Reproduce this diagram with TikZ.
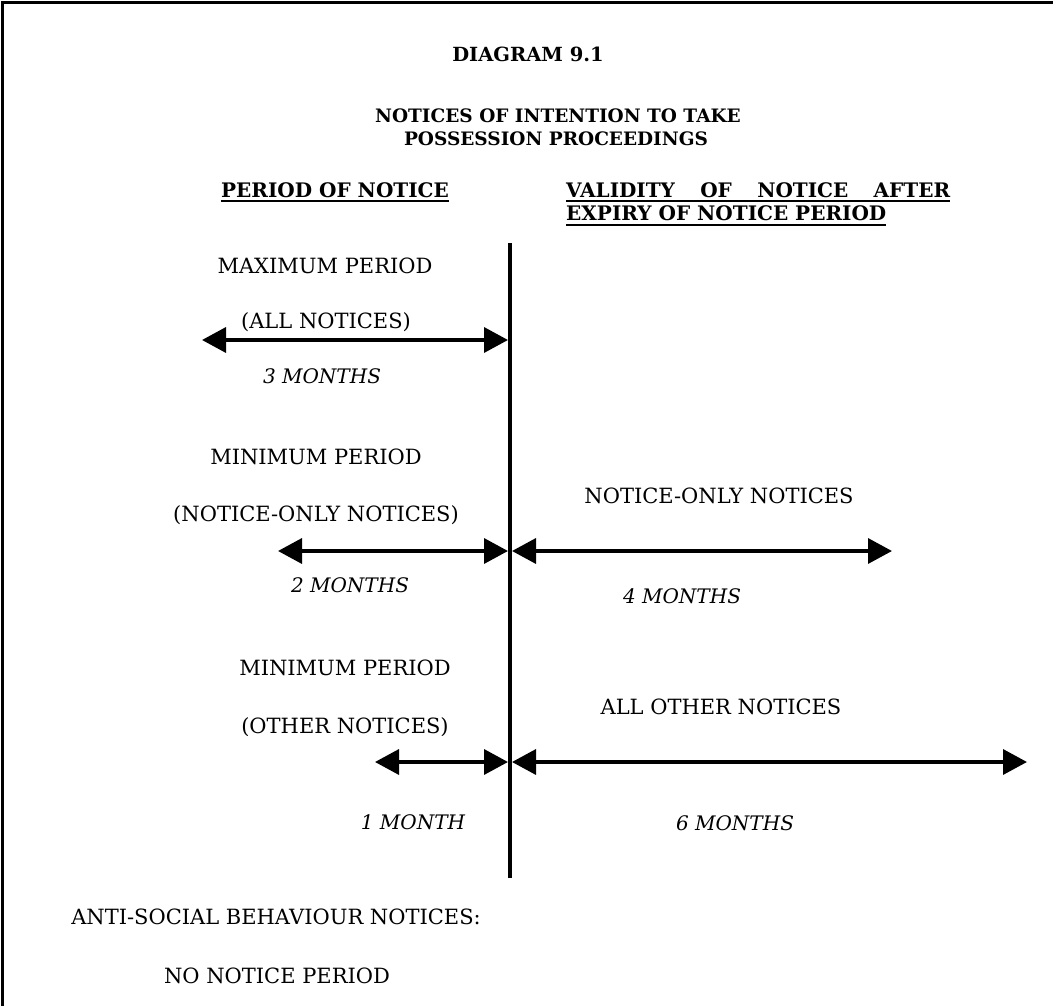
\documentclass[tikz,border=0pt]{standalone}
\usepackage{fontspec}
\setmainfont{DejaVu Serif}
\usepackage{tikz}
\usetikzlibrary{positioning}
\usetikzlibrary{arrows.meta}

\tikzset{
  lbl/.style={inner sep=0pt, anchor=base, font=\fontsize{21}{25}\selectfont},
  hdr/.style={inner sep=0pt, anchor=base, font=\fontsize{20}{24}\selectfont\bfseries},
  ttl/.style={inner sep=0pt, anchor=base, font=\fontsize{18.5}{22}\selectfont\bfseries},
  dur/.style={inner sep=0pt, anchor=base, font=\fontsize{20}{24}\selectfont\itshape},
  span/.style={line width=3.5pt, {Triangle[length=24pt,width=25pt]}-{Triangle[length=24pt,width=25pt]}},
  uline/.style={line width=2pt},
  axis/.style={line width=3.5pt},
}

\begin{document}
\begin{tikzpicture}[x=1pt, y=-1pt]
        \useasboundingbox (0,0) rectangle (1053,1006);
        \draw[line width=3pt] (1053,2.5) -- (2.5,2.5) -- (2.5,1006);

        % headings
        \node(diag) [ttl, font=\fontsize{19.5}{23}\selectfont\bfseries] at (528,62) {DIAGRAM 9.1};
        \node(ttl1) [ttl] at (558,123) {NOTICES OF INTENTION TO TAKE};
        \node(ttl2) [ttl] at (556,146) {POSSESSION PROCEEDINGS};

        \node(colL) [hdr] at (335,197) {PERIOD OF NOTICE};
        \node(colR1) [hdr, anchor=base west] at (566,197) {\makebox[384pt][s]{VALIDITY OF NOTICE AFTER}};
        \node(colR2) [hdr, anchor=base west] at (566,221) {EXPIRY OF NOTICE PERIOD};
        \draw[uline] ([yshift=-4pt]colL.base west) -- ([yshift=-4pt]colL.base east);
        \draw[uline] ([yshift=-4pt]colR1.base west) -- ([yshift=-4pt]colR1.base east);
        \draw[uline] ([yshift=-4pt]colR2.base west) -- ([yshift=-4pt]colR2.base east);

        % divider
        \coordinate(vtop) at (510,243);
        \coordinate(vbot) at (510,878);
        \draw[axis] (vtop) -- (vbot);

        % maximum period
        \node(maxp) [lbl] at (325,273) {MAXIMUM PERIOD};
        \node(alln) [lbl] at (326,328) {(ALL NOTICES)};
        \coordinate(a1l) at (202,340);
        \coordinate(a1r) at (508,340);
        \draw[span] (a1l) -- (a1r);
        \node(m3) [dur] at (322,383) {3 MONTHS};

        % minimum period, notice-only
        \node(minp1) [lbl] at (316,464) {MINIMUM PERIOD};
        \node(noon) [lbl] at (316,521) {(NOTICE-ONLY NOTICES)};
        \node(noonR) [lbl] at (719,503) {NOTICE-ONLY NOTICES};
        \coordinate(a2l) at (278,551);
        \coordinate(a2m) at (508,551);
        \coordinate(a2n) at (512,551);
        \coordinate(a2r) at (892,551);
        \draw[span] (a2l) -- (a2m);
        \draw[span] (a2n) -- (a2r);
        \node(m2) [dur] at (350,592) {2 MONTHS};
        \node(m4) [dur] at (682,603) {4 MONTHS};

        % minimum period, other
        \node(minp2) [lbl] at (345,675) {MINIMUM PERIOD};
        \begin{scope}
            \clip (0,0) rectangle (1053,735);
            \node(othn) [lbl] at (345,733) {(OTHER NOTICES)};
        \end{scope}
        \node(alloR) [lbl] at (721,714) {ALL OTHER NOTICES};
        \coordinate(a3l) at (375,762);
        \coordinate(a3m) at (508,762);
        \coordinate(a3n) at (512,762);
        \coordinate(a3r) at (1027,762);
        \draw[span] (a3l) -- (a3m);
        \draw[span] (a3n) -- (a3r);
        \node(m1) [dur] at (413,829) {1 MONTH};
        \node(m6) [dur] at (735,830) {6 MONTHS};

        % anti-social behaviour
        \node(asb) [lbl] at (276,924) {ANTI-SOCIAL BEHAVIOUR NOTICES:};
        \node(nnp) [lbl] at (277,983) {NO NOTICE PERIOD};
    \end{tikzpicture}
\end{document}
